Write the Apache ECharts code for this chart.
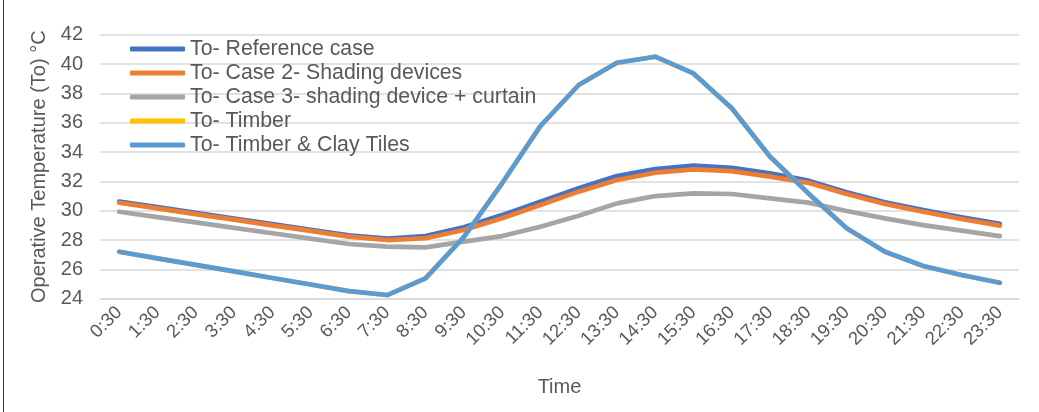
<!DOCTYPE html>
<html><head><meta charset="utf-8">
<script src="https://cdn.jsdelivr.net/npm/echarts@6/dist/echarts.min.js"></script>
<style>html,body{margin:0;padding:0;background:#fff}#c{width:1039px;height:412px}</style>
</head><body><div id="c"></div>
<script>
const times = ['0:30','1:30','2:30','3:30','4:30','5:30','6:30','7:30','8:30','9:30','10:30','11:30','12:30','13:30','14:30','15:30','16:30','17:30','18:30','19:30','20:30','21:30','22:30','23:30'];
const yTicks = [24,26,28,30,32,34,36,38,40,42];
const refCase = [30.62,30.24,29.85,29.47,29.08,28.70,28.32,28.10,28.27,28.87,29.70,30.61,31.53,32.36,32.84,33.07,32.93,32.55,32.05,31.25,30.58,30.05,29.55,29.10];
const case2 = [30.54,30.16,29.77,29.39,29.00,28.62,28.23,28.00,28.12,28.68,29.48,30.39,31.30,32.09,32.59,32.82,32.70,32.32,31.90,31.14,30.46,29.93,29.43,28.98];
const case3 = [29.93,29.56,29.20,28.83,28.46,28.10,27.73,27.55,27.50,27.89,28.27,28.91,29.66,30.50,31.00,31.18,31.14,30.84,30.55,29.98,29.48,29.02,28.64,28.27];
const timber = [27.20,26.75,26.31,25.86,25.41,24.97,24.52,24.25,25.39,28.20,31.87,35.77,38.57,40.09,40.50,39.36,36.98,33.68,31.18,28.80,27.20,26.23,25.62,25.09];
const timberClay = [27.20,26.75,26.31,25.86,25.41,24.97,24.52,24.25,25.39,28.20,31.87,35.77,38.57,40.09,40.50,39.36,36.98,33.68,31.18,28.80,27.20,26.23,25.62,25.09];
const names = ['To- Reference case','To- Case 2- Shading devices','To- Case 3- shading device + curtain','To- Timber','To- Timber & Clay Tiles'];
const colors = ['#4472C4','#ED7D31','#A5A5A5','#FFC000','#5B9BD5'];
const values = [refCase, case2, case3, timber, timberClay];

const txt = '#595959';
const font = 'Arial, "Liberation Sans", sans-serif';
const chart = echarts.init(document.getElementById('c'), null, {renderer:'canvas'});
chart.setOption({
  animation:false,
  color: colors,
  textStyle:{fontFamily:font},
  grid:{left:100,right:20,top:34.7,bottom:113.3,containLabel:false},
  legend:{
    orient:'vertical', left:125, top:32, itemGap:0,
    itemWidth:55, itemHeight:5, icon:'roundRect',
    textStyle:{color:txt,fontSize:21.3,lineHeight:24,fontFamily:font},
    data:names
  },
  xAxis:{
    type:'category', data:times, boundaryGap:true,
    name:'Time', nameLocation:'middle', nameGap:79,
    nameTextStyle:{color:txt,fontSize:20,fontFamily:font},
    axisLine:{show:true,lineStyle:{color:'#d9d9d9',width:1.5}},
    axisTick:{show:false},
    axisLabel:{interval:0,rotate:45,color:txt,fontSize:18.5,margin:11,fontFamily:font}
  },
  yAxis:{
    type:'value', min:yTicks[0], max:yTicks[yTicks.length-1], interval:2,
    name:'Operative Temperature (To) \u00B0C', nameLocation:'middle', nameGap:48,
    nameTextStyle:{color:txt,fontSize:20,fontFamily:font},
    axisLine:{show:false}, axisTick:{show:false},
    axisLabel:{color:txt,fontSize:20,margin:17,fontFamily:font},
    splitLine:{lineStyle:{color:'#d9d9d9',width:1.5}}
  },
  series: names.map((n,i)=>({
    name:n, type:'line', data:values[i], showSymbol:false, symbol:'none',
    lineStyle:{width:4.7,color:colors[i],cap:'round',join:'round'},
    itemStyle:{color:colors[i]}, z:2+i
  })),
  graphic:[{type:'line',shape:{x1:3.5,y1:0,x2:3.5,y2:412},style:{stroke:'#404040',lineWidth:1}}]
});
</script></body></html>
